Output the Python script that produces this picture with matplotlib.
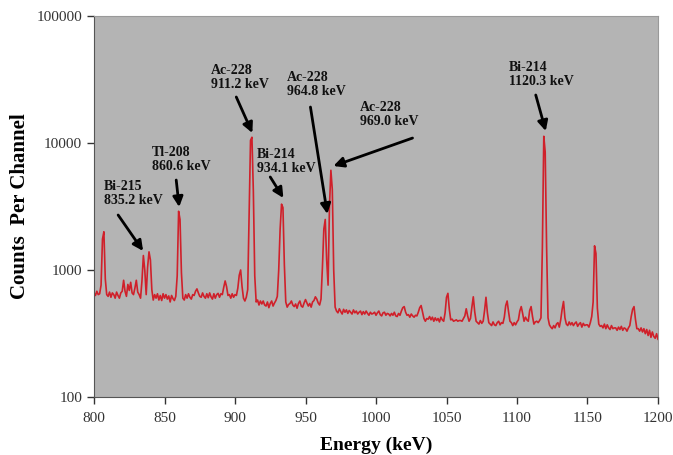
import numpy as np
import matplotlib
matplotlib.use("Agg")
import matplotlib.pyplot as plt
from matplotlib.ticker import FixedLocator, FixedFormatter, NullLocator

# spectrum, 1 keV per channel from 800 to 1200 keV
e_start = 800
e_step = 1
counts = [
    660, 630, 680, 640, 650, 760, 1750, 2000, 850, 640,   # 800
    620, 670, 610, 660, 640, 600, 670, 630, 600, 660,     # 810
    680, 830, 680, 620, 770, 690, 800, 660, 640, 720,     # 820
    830, 670, 640, 600, 820, 1300, 1000, 640, 1050, 1390, # 830
    1200, 700, 580, 640, 600, 650, 580, 630, 575, 650,    # 840
    600, 640, 590, 625, 560, 630, 595, 575, 620, 900,     # 850
    2900, 2500, 950, 600, 580, 640, 600, 650, 610, 590,   # 860
    640, 630, 680, 710, 660, 620, 610, 660, 620, 600,     # 870
    650, 605, 660, 615, 590, 650, 600, 640, 655, 610,     # 880
    650, 640, 730, 820, 740, 630, 640, 600, 650, 610,     # 890
    640, 630, 720, 910, 1000, 740, 600, 570, 610, 700,    # 900
    2600, 10500, 11100, 4200, 900, 560, 580, 530, 570, 540,  # 910
    570, 530, 520, 560, 505, 545, 570, 520, 550, 575,     # 920
    620, 1000, 2100, 3300, 3100, 1100, 560, 510, 535, 545, # 930
    570, 530, 515, 540, 500, 545, 570, 520, 510, 550,     # 940
    585, 550, 520, 545, 510, 560, 575, 615, 590, 550,     # 950
    530, 590, 1050, 2100, 2500, 1200, 760, 3200, 6100, 4300,  # 960
    1000, 510, 475, 460, 495, 470, 450, 490, 465, 485,    # 970
    455, 480, 465, 450, 485, 460, 475, 450, 465, 475,     # 980
    445, 470, 450, 475, 455, 440, 465, 450, 455, 465,     # 990
    440, 460, 475, 445, 435, 460, 465, 440, 455, 450,     # 1000
    435, 455, 440, 465, 435, 430, 455, 440, 475, 505,     # 1010
    515, 465, 440, 445, 425, 450, 435, 425, 440, 435,     # 1020
    465, 505, 525, 465, 415, 395, 415, 410, 430, 405,     # 1030
    425, 395, 420, 400, 415, 390, 425, 405, 395, 460,     # 1040
    610, 655, 490, 405, 410, 395, 400, 405, 395, 400,     # 1050
    400, 395, 415, 435, 495, 435, 395, 415, 510, 615,     # 1060
    470, 395, 385, 375, 400, 380, 395, 480, 610, 460,     # 1070
    385, 375, 365, 390, 370, 365, 385, 395, 370, 385,     # 1080
    380, 425, 525, 570, 470, 395, 385, 365, 385, 370,     # 1090
    390, 405, 475, 515, 455, 395, 425, 405, 395, 480,     # 1100
    515, 430, 375, 390, 395, 385, 400, 420, 1500, 11300,  # 1110
    8500, 1500, 420, 370, 355, 345, 365, 350, 375, 385,   # 1120
    355, 405, 490, 565, 420, 375, 365, 390, 370, 385,     # 1130
    365, 380, 390, 360, 375, 385, 355, 380, 365, 370,     # 1140
    370, 355, 385, 430, 560, 1550, 1350, 500, 375, 360,   # 1150
    365, 350, 375, 345, 370, 350, 340, 365, 345, 350,     # 1160
    350, 335, 355, 340, 360, 335, 350, 345, 330, 350,     # 1170
    365, 430, 490, 515, 410, 345, 345, 330, 350, 325,     # 1180
    345, 315, 340, 305, 335, 295, 325, 300, 290, 315,     # 1190
    285,                                                  # 1200
]
energy = e_start + e_step * np.arange(len(counts))

labels = ["Bi-215\n835.2 keV", "Tl-208\n860.6 keV", "Ac-228\n911.2 keV",
          "Bi-214\n934.1 keV", "Ac-228\n964.8 keV", "Ac-228\n969.0 keV",
          "Bi-214\n1120.3 keV"]
y_ticks = [100, 1000, 10000, 100000]
x_ticks = [800, 850, 900, 950, 1000, 1050, 1100, 1150, 1200]

# label corner, arrow start, arrow tip (data coords)
text_pos = [(807.1, 5100), (841.2, 9500), (883.1, 42000), (915.8, 9100),
            (937.1, 37000), (988.3, 21500), (1094.1, 44000)]
arrow_from = [(817.1, 2710), (858.3, 5110), (900.9, 23030), (925.0, 5400),
              (953.5, 19200), (1025.9, 10940), (1113.3, 23880)]
arrow_to = [(834.8, 1412), (860.4, 3133), (912.3, 11990), (934.3, 3690),
            (965.5, 2760), (969.8, 6590), (1120.4, 12420)]

plt.rcParams['font.family'] = ['Liberation Serif', 'DejaVu Serif']

fig = plt.figure(figsize=(6.73, 4.55), dpi=100)
ax = fig.add_axes([0.1397, 0.1275, 0.838, 0.8373])
ax.set_facecolor('#b4b4b4')
ax.plot(energy, counts, color='#d0202a', lw=1.2)

ax.set_yscale('log')
ax.set_xlim(800, 1200)
ax.set_ylim(100, 100000)
ax.yaxis.set_major_locator(FixedLocator(y_ticks))
ax.yaxis.set_major_formatter(FixedFormatter([str(v) for v in y_ticks]))
ax.yaxis.set_minor_locator(NullLocator())
ax.set_xticks(x_ticks)
ax.tick_params(axis='both', labelsize=11, colors='#333333', length=5, width=1)
ax.tick_params(axis='x', pad=6)

for s in ['left', 'bottom']:
    ax.spines[s].set_color('#555555')
for s in ['top', 'right']:
    ax.spines[s].set_color('#999999')

for lab, tp, af, at in zip(labels, text_pos, arrow_from, arrow_to):
    ax.text(tp[0], tp[1], lab, fontsize=10, fontweight='bold', ha='left', va='top',
            color='#111111', linespacing=1.1)
    ax.annotate('', xy=at, xytext=af,
                arrowprops=dict(arrowstyle='-|>', color='black', lw=2,
                                mutation_scale=15, shrinkA=0, shrinkB=0))

fig.text(0.03, 0.1275 + 0.8373 / 2, 'Counts  Per Channel', rotation=90, fontsize=15,
         fontweight='bold', ha='center', va='center')
fig.text(0.1397 + 0.838 / 2, 0.022, 'Energy (keV)', fontsize=14, fontweight='bold',
         ha='center', va='center')

fig.savefig('out.png', dpi=100)
